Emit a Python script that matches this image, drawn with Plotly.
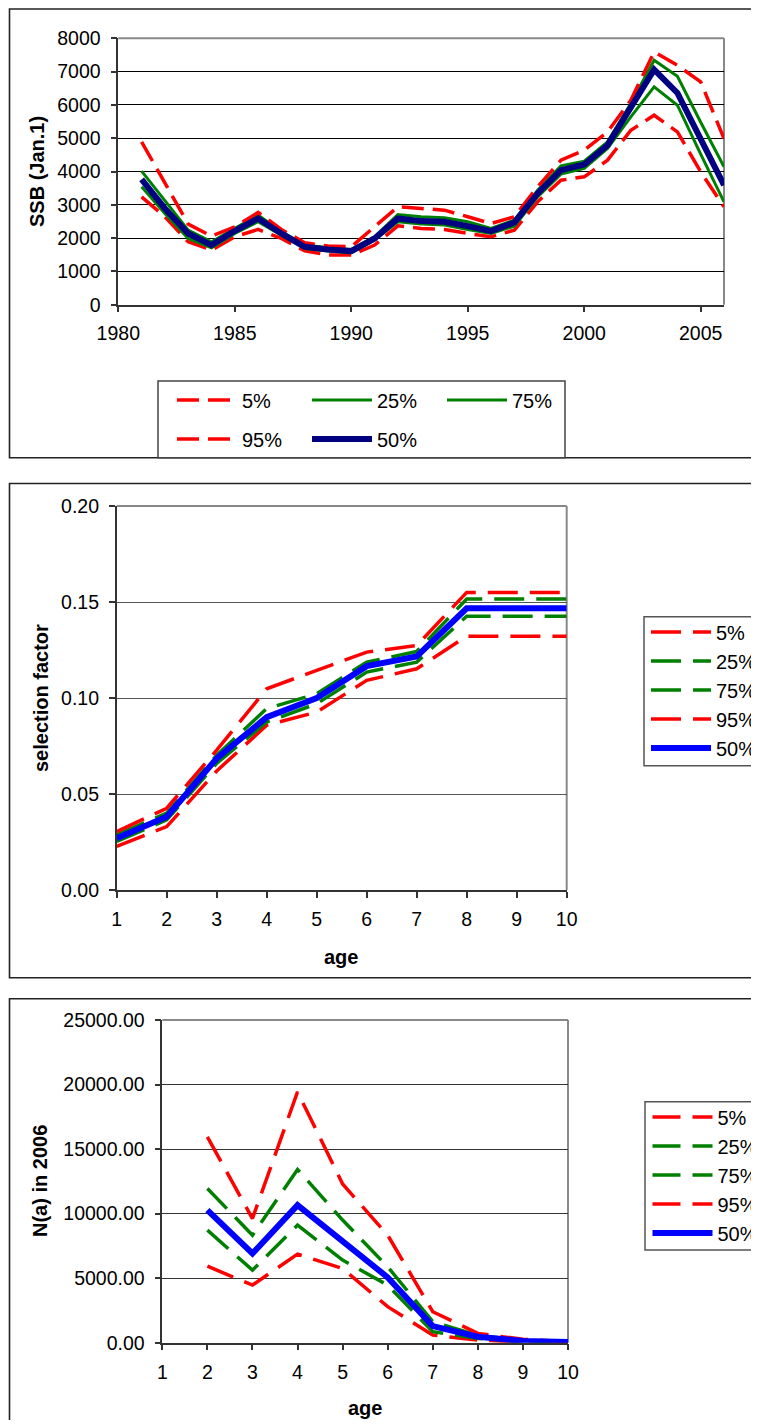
import plotly.graph_objects as go

# The page body has an 8px margin, so the figure is offset by 8px and sized
# so that no scrollbar appears.
OFF = 8
W, H = 751, 1412
def X(p): return (p - OFF) / W
def Y(p): return 1 - (p - OFF) / H

# ---------------- data ----------------
years = list(range(1981, 2007))
ssb_p05 = [3240, 2640, 1890, 1640, 2040, 2260, 1990, 1620, 1490, 1490, 1790, 2370, 2290,
           2260, 2140, 2040, 2240, 3090, 3740, 3840, 4340, 5240, 5690, 5190, 3990, 2940]
ssb_p25 = [3540, 2740, 1990, 1710, 2140, 2490, 2090, 1690, 1610, 1560, 1940, 2490, 2420,
           2390, 2260, 2140, 2360, 3240, 3920, 4090, 4690, 5640, 6540, 5990, 4520, 3090]
ssb_p75 = [4010, 3130, 2240, 1890, 2290, 2690, 2190, 1790, 1710, 1660, 2040, 2710, 2640,
           2610, 2490, 2290, 2540, 3440, 4170, 4310, 4890, 6040, 7340, 6860, 5480, 4140]
ssb_p95 = [4890, 3640, 2420, 2060, 2340, 2770, 2260, 1860, 1760, 1740, 2340, 2940, 2890,
           2840, 2640, 2440, 2640, 3540, 4340, 4640, 5190, 6140, 7590, 7190, 6690, 4990]
ssb_p50 = [3760, 2890, 2140, 1790, 2220, 2590, 2140, 1740, 1660, 1610, 1990, 2590, 2510,
           2490, 2360, 2210, 2470, 3340, 4040, 4210, 4790, 5890, 7060, 6360, 4960, 3590]

ages = list(range(1, 11))
sel_p05 = [0.0227, 0.0330, 0.0620, 0.0858, 0.0927, 0.1092, 0.1152, 0.1322, 0.1322, 0.1322]
sel_p25 = [0.0253, 0.0365, 0.0660, 0.0875, 0.0970, 0.1135, 0.1187, 0.1426, 0.1426, 0.1426]
sel_p75 = [0.0287, 0.0400, 0.0702, 0.0945, 0.1022, 0.1187, 0.1242, 0.1516, 0.1516, 0.1516]
sel_p95 = [0.0304, 0.0426, 0.0728, 0.1048, 0.1144, 0.1239, 0.1273, 0.1550, 0.1550, 0.1550]
sel_p50 = [0.0270, 0.0382, 0.0685, 0.0900, 0.1000, 0.1166, 0.1216, 0.1467, 0.1467, 0.1467]

na_p05 = [None, 5930, 4460, 6860, 5750, 2790, 590, 210, 30, 20]
na_p25 = [None, 8720, 5620, 9110, 6400, 4460, 850, 330, 90, 40]
na_p75 = [None, 11950, 8330, 13420, 9500, 5880, 1630, 560, 180, 70]
na_p95 = [None, 15950, 9620, 19430, 12300, 8330, 2400, 720, 260, 80]
na_p50 = [None, 10270, 6910, 10660, 7820, 5060, 1290, 460, 130, 60]

labels = ["5%", "25%", "75%", "95%", "50%"]
ssb_ticks = [1980, 1985, 1990, 1995, 2000, 2005]

# ---------------- styles ----------------
RED, GREEN, NAVY, BLUE = "#FF0000", "#008000", "#000080", "#0000FF"
FONT = "Liberation Sans, Arial, sans-serif"
AX = "#333333"

fig = go.Figure()

def add(x, y, name, color, width, dash, xa, ya, legend, grp):
    fig.add_trace(go.Scatter(
        x=x, y=y, name=name, mode="lines",
        line=dict(color=color, width=width, dash=dash),
        xaxis=xa, yaxis=ya, legend=legend, legendgroup=grp,
        hoverinfo="skip", connectgaps=False))

d1 = "22px,9px"
add(years, ssb_p05, labels[0], RED, 3.5, d1, "x", "y", "legend", "a1")
add(years, ssb_p25, labels[1], GREEN, 3, "solid", "x", "y", "legend", "a2")
add(years, ssb_p75, labels[2], GREEN, 3, "solid", "x", "y", "legend", "a3")
add(years, ssb_p95, labels[3], RED, 3.5, d1, "x", "y", "legend2", "a4")
add(years, ssb_p50, labels[4], NAVY, 6, "solid", "x", "y", "legend2", "a5")

d2 = "30px,12px"
add(ages, sel_p05, labels[0], RED, 3.5, d2, "x2", "y2", "legend3", "b1")
add(ages, sel_p25, labels[1], GREEN, 3.5, d2, "x2", "y2", "legend3", "b2")
add(ages, sel_p75, labels[2], GREEN, 3.5, d2, "x2", "y2", "legend3", "b3")
add(ages, sel_p95, labels[3], RED, 3.5, d2, "x2", "y2", "legend3", "b4")
add(ages, sel_p50, labels[4], BLUE, 6, "solid", "x2", "y2", "legend3", "b5")

d3 = "28px,12px"
add(ages, na_p05, labels[0], RED, 3.5, d3, "x3", "y3", "legend4", "c1")
add(ages, na_p25, labels[1], GREEN, 3.5, d3, "x3", "y3", "legend4", "c2")
add(ages, na_p75, labels[2], GREEN, 3.5, d3, "x3", "y3", "legend4", "c3")
add(ages, na_p95, labels[3], RED, 3.5, d3, "x3", "y3", "legend4", "c4")
add(ages, na_p50, labels[4], BLUE, 6, "solid", "x3", "y3", "legend4", "c5")

TF = dict(family=FONT, size=19.5, color="black")

def xax(dom, rng, tickvals, anchor, standoff):
    return dict(domain=dom, range=rng, tickmode="array", tickvals=tickvals,
                ticks="outside", ticklen=6, tickwidth=1.5, tickcolor=AX,
                showline=True, linecolor=AX, linewidth=1.5, showgrid=False,
                zeroline=False, anchor=anchor, tickfont=TF,
                ticklabelstandoff=standoff, fixedrange=True)

def yax(dom, rng, dtick, fmt, anchor, gridcolor):
    return dict(domain=dom, range=rng, tick0=0, dtick=dtick, tickformat=fmt,
                ticks="outside", ticklen=6, tickwidth=1.5, tickcolor=AX,
                showline=True, linecolor=AX, linewidth=1.5, showgrid=True,
                gridcolor=gridcolor, gridwidth=1, zeroline=False, anchor=anchor,
                tickfont=TF, ticklabelstandoff=6, fixedrange=True)

P1 = (118.3, 724.0, 38.3, 304.7)
P2 = (116.7, 566.7, 506.0, 890.0)
P3 = (162.3, 568.0, 1020.0, 1342.7)

layout = dict(
    width=W, height=H, margin=dict(l=0, r=0, t=0, b=0, autoexpand=False),
    paper_bgcolor="white", plot_bgcolor="white",
    font=dict(family=FONT, color="black"),
    xaxis=xax([X(P1[0]), X(P1[1])], [1980, 2006], ssb_ticks, "y", 4),
    yaxis=yax([Y(P1[3]), Y(P1[2])], [0, 8000], 1000, "d", "x", "black"),
    xaxis2=xax([X(P2[0]), X(P2[1])], [1, 10], ages, "y2", 5),
    yaxis2=yax([Y(P2[3]), Y(P2[2])], [0, 0.2], 0.05, ".2f", "x2", "#555555"),
    xaxis3=xax([X(P3[0]), X(P3[1])], [1, 10], ages, "y3", 5),
    yaxis3=yax([Y(P3[3]), Y(P3[2])], [0, 25000], 5000, ".2f", "x3", "#333333"),
)

LF = dict(family=FONT, size=20, color="black")
def leg(xp, yp, orient):
    d = dict(x=X(xp), y=Y(yp), xanchor="left", yanchor="top", orientation=orient,
             itemwidth=60, font=LF, bgcolor="rgba(0,0,0,0)", borderwidth=0,
             traceorder="normal", tracegroupgap=0)
    if orient == "h":
        d["entrywidth"] = 60
    return d

layout["legend"] = leg(172, 380.5, "h")
layout["legend2"] = leg(172, 419.5, "h")
layout["legend3"] = leg(646, 612.5, "v")
layout["legend4"] = leg(647.5, 1097.5, "v")

shapes = []
def rect(x0, y0, x1, y1, color, w, layer="above"):
    shapes.append(dict(type="rect", xref="paper", yref="paper",
                       x0=X(x0), x1=X(x1), y0=Y(y1), y1=Y(y0),
                       line=dict(color=color, width=w), fillcolor="rgba(0,0,0,0)", layer=layer))
def line(x0, y0, x1, y1, color, w, layer="between"):
    shapes.append(dict(type="line", xref="paper", yref="paper",
                       x0=X(x0), x1=X(x1), y0=Y(y0), y1=Y(y1),
                       line=dict(color=color, width=w), layer=layer))

# panel borders
rect(9.5, 9.0, 800, 457.7, "#222222", 1.6)
rect(9.5, 483.5, 800, 977.7, "#222222", 1.6)
rect(9.5, 998.7, 800, 1480, "#222222", 1.6)
# legend boxes
rect(158, 381, 565, 457.7, "#444444", 1.5)
rect(644, 616.7, 800, 765.7, "#555555", 1.5)
rect(645, 1101.7, 800, 1250, "#555555", 1.5)
# gray plot-area borders (top & right)
for (l, r, t, b) in (P1, P2, P3):
    line(l, t, r, t, "#888888", 2)
    line(r, t, r, b, "#888888", 2)

layout["shapes"] = shapes

TT = dict(family=FONT, size=20, color="black")
def ann(text, xp, yp, angle=0):
    return dict(text="<b>%s</b>" % text, x=X(xp), y=Y(yp), xref="paper", yref="paper",
                showarrow=False, textangle=angle, font=TT, xanchor="center", yanchor="middle")

layout["annotations"] = [
    ann("SSB (Jan.1)", 37, 171, -90),
    ann("selection factor", 41, 698, -90),
    ann("age", 341, 957),
    ann("N(a) in 2006", 40, 1181, -90),
    ann("age", 365, 1408),
]

fig.update_layout(**layout)
fig.write_html("out.html")
